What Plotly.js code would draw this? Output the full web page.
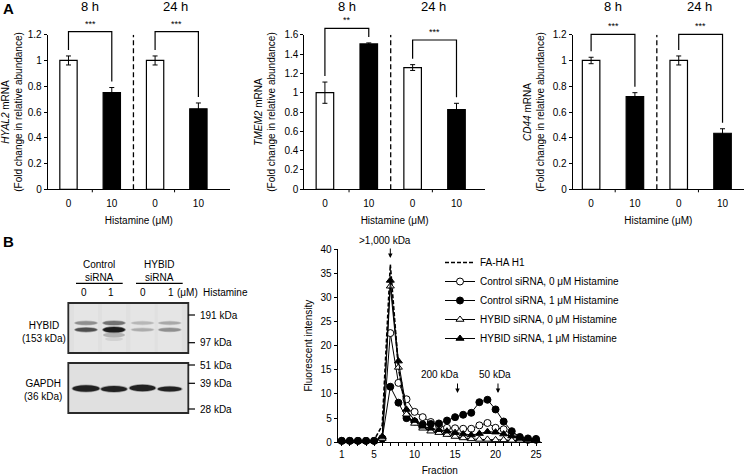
<!DOCTYPE html>
<html>
<head>
<meta charset="utf-8">
<script src="https://cdn.plot.ly/plotly-3.0.1.min.js"></script>
<style>html,body{margin:0;padding:0;background:#fff}#chart{width:745px;height:476px}</style>
</head>
<body>
<div id="chart"></div>
<script>
// ---------- DATA ----------
const categories = ['8 h, 0', '8 h, 10', '24 h, 0', '24 h, 10'];
const doseLabels = ['0', '10', '0', '10'];
const timeLabels = ['8 h', '24 h'];

const hyal2 = [1.00, 0.75, 1.00, 0.625];
const hyal2Err = [0.035, 0.04, 0.035, 0.045];
const hyal2Sig = ['***', '***'];

const tmem2 = [1.00, 1.505, 1.26, 0.825];
const tmem2Err = [0.11, 0.01, 0.03, 0.065];
const tmem2Sig = ['**', '***'];

const cd44 = [1.00, 0.72, 1.00, 0.435];
const cd44Err = [0.025, 0.03, 0.035, 0.035];
const cd44Sig = ['***', '***'];

const fractions = [1,2,3,4,5,6,7,8,9,10,11,12,13,14,15,16,17,18,19,20,21,22,23,24,25];
const faHA = [0.3,0.3,0.3,0.3,0.5,3.5,36.8,15.5,5.5,3.8,3.0,2.4,1.9,1.4,1.0,0.7,0.5,0.4,0.3,0.3,0.3,0.3,0.3,0.3,0.3];
const ctrl0 = [0.3,0.3,0.3,0.3,0.3,0.8,22.6,12.3,8.9,6.3,5.2,4.2,3.5,3.0,2.9,2.8,2.8,3.5,4.0,3.0,2.7,1.5,0.8,0.5,0.5];
const ctrl1 = [0.3,0.3,0.3,0.3,0.3,0.8,11.5,8.2,5.0,4.3,3.7,3.8,3.9,4.5,5.2,5.7,6.1,8.3,8.8,6.8,4.3,2.3,1.1,0.8,0.7];
const hyb0 = [0.3,0.3,0.3,0.3,0.3,0.8,32.3,15.5,5.8,3.9,2.9,2.3,2.0,1.6,1.2,0.9,0.7,0.6,0.6,0.5,0.5,0.4,0.4,0.4,0.4];
const hyb1 = [0.3,0.3,0.3,0.3,0.3,1.2,33.5,16.8,6.8,4.5,3.3,2.9,2.6,2.3,2.0,1.7,1.5,1.8,2.2,2.1,1.7,1.3,0.8,0.6,0.5];
const seriesNames = ['FA-HA H1', 'Control siRNA, 0 \u03bcM Histamine', 'Control siRNA, 1 \u03bcM Histamine',
                     'HYBID siRNA, 0 \u03bcM Histamine', 'HYBID siRNA, 1 \u03bcM Histamine'];
const fractionLabels = ['1','5','10','15','20','25'];
const sizeMarkers = [['>1,000 kDa', 7], ['200 kDa', 15.3], ['50 kDa', 20.3]];

const blotLanes = ['0', '1', '0', '1'];
const blotGroups = ['Control<br>siRNA', 'HYBID<br>siRNA'];
const ladder = [['191 kDa', 315], ['97 kDa', 342.7], ['51 kDa', 365], ['39 kDa', 383.3], ['28 kDa', 409]];

// ---------- LAYOUT HELPERS ----------
const W = 745, H = 476;
const px = x => x / W;
const py = y => 1 - y / H;
const FONT = 'Arial, "Liberation Sans", sans-serif';
const barFill = ['#ffffff', '#000000', '#ffffff', '#000000'];

const panels = [
  {vals: hyal2, err: hyal2Err, sig: hyal2Sig, gene: 'HYAL2', ymax: 1.2, x0: 47.7, x1: 230, xr: [-0.48, 3.73], tops: [31.7, 31.7]},
  {vals: tmem2, err: tmem2Err, sig: tmem2Sig, gene: 'TMEM2', ymax: 1.6, x0: 304.3, x1: 485, xr: [-0.47, 3.65], tops: [28.3, 40]},
  {vals: cd44, err: cd44Err, sig: cd44Sig, gene: 'CD44', ymax: 1.2, x0: 572.7, x1: 744, xr: [-0.42, 3.49], tops: [34.3, 34.3]}
];
const yTop = 34.7, yBot = 189.3;

const traces = [];
const layout = {
  width: W, height: H,
  margin: {l: 0, r: 0, t: 0, b: 0},
  paper_bgcolor: '#fff', plot_bgcolor: 'rgba(0,0,0,0)',
  font: {family: FONT, size: 10, color: '#000'},
  showlegend: true,
  shapes: [], annotations: [],
  bargap: 0.6
};

panels.forEach((p, i) => {
  const n = i === 0 ? '' : String(i + 1);
  const xa = 'x' + n, ya = 'y' + n;
  traces.push({
    type: 'bar', x: categories, y: p.vals, xaxis: xa, yaxis: ya, showlegend: false,
    width: 0.4,
    marker: {color: barFill, line: {color: '#000', width: 1.2}},
    error_y: {type: 'data', array: p.err, visible: true, color: '#000', thickness: 1, width: 2.5}
  });
  const d0 = py(yBot), d1 = py(yTop);
  layout['xaxis' + n] = {
    domain: [px(p.x0), px(p.x1)], anchor: ya, type: 'category', range: p.xr,
    showline: true, linecolor: '#000', linewidth: 1, ticks: 'outside', ticklen: 5, tickcolor: 'rgba(0,0,0,0)',
    showgrid: false, zeroline: false,
    tickmode: 'array', tickvals: categories, ticktext: doseLabels,
    tickfont: {size: 10, family: FONT}, fixedrange: true,
    title: {text: 'Histamine (\u03bcM)', font: {size: 10, family: FONT}, standoff: 8}
  };
  layout['yaxis' + n] = {
    domain: [d0, d1], anchor: xa, range: [0, p.ymax], dtick: 0.2,
    showline: true, linecolor: '#000', linewidth: 1, ticks: 'outside', ticklen: 3, tickcolor: '#000',
    showgrid: false, zeroline: false, tickfont: {size: 10, family: FONT},
    title: {text: '<i>' + p.gene + '</i> mRNA<br>(Fold change in relative abundance)',
            font: {size: 10, family: FONT}, standoff: 6}
  };
  // separator dashed line
  layout.shapes.push({type: 'line', xref: xa, yref: ya, x0: 1.5, x1: 1.5, y0: 0, y1: p.ymax,
                      line: {color: '#000', width: 1.3, dash: '5px,3px'}});
  // minor x ticks
  [0.55, 2.45].forEach(t => layout.shapes.push({type: 'line', xref: xa, yref: 'paper', x0: t, x1: t,
      y0: py(yBot), y1: py(yBot + 3), line: {color: '#000', width: 1}}));
  // significance brackets
  const v2p = v => d0 + v / p.ymax * (d1 - d0);
  const gap = 6 / H;
  [0, 1].forEach(g => {
    const a = 2 * g, b = 2 * g + 1;
    const top = py(p.tops[g]);
    const yl = v2p(p.vals[a] + p.err[a]) + gap, yr = v2p(p.vals[b] + p.err[b]) + gap;
    layout.shapes.push({type: 'path', xref: xa, yref: 'paper',
      path: `M${a},${yl} L${a},${top} L${b},${top} L${b},${yr}`,
      line: {color: '#000', width: 1.2}});
    layout.annotations.push({xref: xa, yref: 'paper', x: a + 0.5, y: top + 8 / H, text: p.sig[g],
      showarrow: false, font: {size: 9, family: FONT}, yanchor: 'middle'});
    layout.annotations.push({xref: xa, yref: 'paper', x: g === 0 ? 0.5 : 2.47, y: py(7), text: timeLabels[g],
      showarrow: false, font: {size: 13, family: FONT}, yanchor: 'middle'});
  });
});

// ---------- LINE CHART ----------
const lineStyles = [
  {mode: 'lines', line: {color: '#000', width: 1.6, dash: '4px,2px'}},
  {mode: 'lines+markers', line: {color: '#000', width: 1}, marker: {symbol: 'circle', size: 7, color: '#fff', line: {color: '#000', width: 1}}},
  {mode: 'lines+markers', line: {color: '#000', width: 1}, marker: {symbol: 'circle', size: 7, color: '#000', line: {color: '#000', width: 1}}},
  {mode: 'lines+markers', line: {color: '#000', width: 1}, marker: {symbol: 'triangle-up', size: 7, color: '#fff', line: {color: '#000', width: 1}}},
  {mode: 'lines+markers', line: {color: '#000', width: 1}, marker: {symbol: 'triangle-up', size: 7, color: '#000', line: {color: '#000', width: 1}}}
];
[faHA, ctrl0, ctrl1, hyb0, hyb1].forEach((ys, k) => {
  traces.push(Object.assign({type: 'scatter', x: fractions, y: ys, name: seriesNames[k],
    xaxis: 'x4', yaxis: 'y4', cliponaxis: false}, lineStyles[k]));
});
layout.xaxis4 = {
  domain: [px(337.7), px(541.7)], anchor: 'y4', range: [0.5, 25.7],
  showline: true, linecolor: '#000', linewidth: 1, ticks: 'outside', ticklen: 3, tickcolor: '#000',
  tickmode: 'array', tickvals: fractions,
  ticktext: fractions.map(f => fractionLabels.includes(String(f)) ? String(f) : ''),
  showgrid: false, zeroline: false, tickfont: {size: 10, family: FONT},
  title: {text: 'Fraction', font: {size: 10, family: FONT}, standoff: 8}
};
layout.yaxis4 = {
  domain: [py(442.3), py(249)], anchor: 'x4', range: [0, 40], dtick: 5,
  showline: true, linecolor: '#000', linewidth: 1, ticks: 'outside', ticklen: 3, tickcolor: '#000',
  showgrid: false, zeroline: false, tickfont: {size: 10, family: FONT},
  title: {text: 'Fluorescent intensity', font: {size: 10, family: FONT}, standoff: 6}
};
layout.legend = {x: px(440), y: py(248), xanchor: 'left', yanchor: 'top', bgcolor: 'rgba(0,0,0,0)',
  font: {size: 10, family: FONT}, tracegroupgap: 0, itemwidth: 30};

sizeMarkers.forEach(([label, f], k) => {
  const headY = k === 0 ? 258 : 393;
  layout.annotations.push({xref: 'x4', yref: 'paper', x: f, y: py(headY), ax: 0, ay: -11,
    text: '', showarrow: true, arrowhead: 2, arrowsize: 0.9, arrowwidth: 1, arrowcolor: '#000'});
  layout.annotations.push({xref: 'x4', yref: 'paper', x: k === 0 ? 6.35 : (k === 1 ? 13.1 : 19.9),
    y: py(k === 0 ? 240.7 : 374.3), text: label, showarrow: false, font: {size: 10, family: FONT}, yanchor: 'middle'});
});

// ---------- PANEL LETTERS ----------
layout.annotations.push({xref: 'paper', yref: 'paper', x: px(1), y: py(8), text: '<b>A</b>', showarrow: false,
  xanchor: 'left', yanchor: 'middle', font: {size: 15, family: FONT}});
layout.annotations.push({xref: 'paper', yref: 'paper', x: px(1), y: py(241), text: '<b>B</b>', showarrow: false,
  xanchor: 'left', yanchor: 'middle', font: {size: 15, family: FONT}});

// ---------- WESTERN BLOT (drawn decoration) ----------
const txt = (t, x, y, anchor) => layout.annotations.push({xref: 'paper', yref: 'paper', x: px(x), y: py(y),
  text: t, showarrow: false, xanchor: anchor || 'center', yanchor: 'middle', font: {size: 10, family: FONT}});
const hline = (x0, x1, y, w) => layout.shapes.push({type: 'line', xref: 'paper', yref: 'paper',
  x0: px(x0), x1: px(x1), y0: py(y), y1: py(y), line: {color: '#000', width: w || 1}});
const ell = (cx, cy, w, h, color, op) => layout.shapes.push({type: 'circle', xref: 'paper', yref: 'paper',
  x0: px(cx - w / 2), x1: px(cx + w / 2), y0: py(cy + h / 2), y1: py(cy - h / 2),
  fillcolor: color, opacity: op === undefined ? 1 : op, line: {width: 0}, layer: 'above'});

txt(blotGroups[0], 99.3, 270.5);
txt(blotGroups[1], 159.3, 270.5);
hline(76, 122.7, 283.3, 1.2);
hline(136, 182.7, 283.3, 1.2);
const laneX = [86, 114, 142.5, 169.7];
blotLanes.forEach((l, i) => txt(l, [84, 111, 143.3, 170.7][i], 292.7));
txt('(\u03bcM)', 187.3, 292.7);
txt('Histamine', 225.7, 292.7);
txt('HYBID<br>(153 kDa)', 43.5, 331.5);
txt('GAPDH<br>(36 kDa)', 43.3, 389.5);

// boxes
[[303, 353], [363, 413]].forEach(([t, b]) => layout.shapes.push({type: 'rect', xref: 'paper', yref: 'paper',
  x0: px(68.3), x1: px(188.3), y0: py(b), y1: py(t), fillcolor: '#e0e0e0', line: {color: '#2a2a2a', width: 1.8}, layer: 'below'}));
// lighter lane stripes
laneX.forEach(cx => { layout.shapes.push({type: 'rect', xref: 'paper', yref: 'paper', x0: px(cx - 12), x1: px(cx + 12),
  y0: py(352), y1: py(304), fillcolor: '#e5e5e5', line: {width: 0}, layer: 'below'}); });
// HYBID bands
const upper = [['#8a8a8a', 3.5], ['#6a6a6a', 4], ['#b4b4b4', 3], ['#a4a4a4', 3]];
const lower = [['#4a4a4a', 4], ['#151515', 5.5], ['#aaaaaa', 3], ['#8c8c8c', 3.5]];
laneX.forEach((cx, i) => {
  ell(cx, 323, 24, upper[i][1] + 1.5, upper[i][0], 0.45);
  ell(cx, 323, 22, upper[i][1], upper[i][0], 0.9);
  ell(cx, 329.7, 24, lower[i][1] + 1.5, lower[i][0], 0.45);
  ell(cx, 329.7, 22, lower[i][1], lower[i][0], 0.95);
});
ell(114, 335, 22, 5, '#909090', 0.6);
ell(114, 339, 18, 4, '#c0c0c0', 0.5);
// GAPDH bands
const gY = [388.5, 389, 388, 389];
const gW = [27, 26, 26, 24];
const gH = [6.5, 6, 6.5, 5];
laneX.forEach((cx, i) => {
  ell(cx, gY[i], gW[i] + 2, gH[i] + 1.5, '#555', 0.45);
  ell(cx, gY[i], gW[i], gH[i], '#1a1a1a', 0.95);
});
// ladder
ladder.forEach(([label, y]) => { hline(188.3, 195, y, 1.2); txt(label, 198, y, 'left'); });

Plotly.newPlot('chart', traces, layout, {staticPlot: true, displayModeBar: false});
</script>
</body>
</html>
